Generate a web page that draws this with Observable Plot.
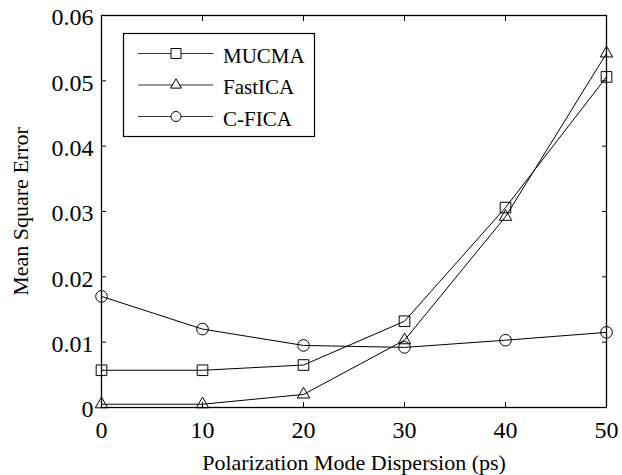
<!DOCTYPE html>
<html>
<head>
<meta charset="utf-8">
<script src="https://cdn.jsdelivr.net/npm/d3@7"></script>
<script src="https://cdn.jsdelivr.net/npm/@observablehq/plot@0.6"></script>
<style>
  html, body { margin: 0; padding: 0; background: #fff; }
  #chart svg { display: block; }
</style>
</head>
<body>
<div id="chart"></div>
<script>
// ---- data ----
const pmd = [0, 10, 20, 30, 40, 50];
const mucma = [0.0057, 0.0057, 0.0065, 0.0132, 0.0306, 0.0506];
const fastica = [0.0005, 0.0005, 0.0020, 0.0103, 0.0292, 0.0542];
const cfica = [0.0170, 0.0120, 0.0095, 0.0092, 0.0103, 0.0115];
const seriesNames = ["MUCMA", "FastICA", "C-FICA"];
const seriesSymbols = ["square", "triangle", "circle"];
const xTicks = [0, 10, 20, 30, 40, 50];
const yTicks = [0, 0.01, 0.02, 0.03, 0.04, 0.05, 0.06];
const xLabel = "Polarization Mode Dispersion (ps)";
const yLabel = "Mean Square Error";

const seriesValues = [mucma, fastica, cfica];
const rows = seriesNames.flatMap((name, i) =>
  pmd.map((x, j) => ({series: name, x, y: seriesValues[i][j]})));
const symbolRadius = {square: 6, triangle: 4.6, circle: 5.8};

const font = "'Liberation Serif', 'Times New Roman', serif";
const yFmt = d => d === 0 ? "0" : d.toFixed(2);

const marks = [
  Plot.frame({stroke: "black", strokeWidth: 1.3}),
  // inward ticks on all four sides
  Plot.axisX({anchor: "bottom", ticks: xTicks, tickSize: -5, tickFormat: () => "", stroke: "black"}),
  Plot.axisX({anchor: "top", ticks: xTicks, tickSize: -5, tickFormat: () => "", stroke: "black"}),
  Plot.axisY({anchor: "left", ticks: yTicks, tickSize: -5, tickFormat: () => "", stroke: "black"}),
  Plot.axisY({anchor: "right", ticks: yTicks, tickSize: -5, tickFormat: () => "", stroke: "black"}),
  // tick labels
  Plot.axisX({anchor: "bottom", ticks: xTicks, tickSize: 0, tickPadding: 13, fontSize: 24, fill: "black", label: null}),
  Plot.axisY({anchor: "left", ticks: yTicks, tickSize: 0, tickPadding: 8, fontSize: 24, fill: "black", tickFormat: yFmt, dy: 2, label: null}),
  // axis titles
  Plot.text([xLabel], {frameAnchor: "bottom", text: d => d, dy: 55, lineAnchor: "middle", textAnchor: "middle", fontSize: 22, fill: "black"}),
  Plot.text([yLabel], {frameAnchor: "left", text: d => d, dx: -81, rotate: -90, textAnchor: "middle", lineAnchor: "middle", fontSize: 22, fill: "black"}),
];

seriesNames.forEach((name, i) => {
  const data = rows.filter(d => d.series === name);
  marks.push(Plot.line(data, {x: "x", y: "y", stroke: "black", strokeWidth: 1}));
  marks.push(Plot.dot(data, {x: "x", y: "y", symbol: () => seriesSymbols[i], r: symbolRadius[seriesSymbols[i]], stroke: "black", strokeWidth: 1, fill: "none"}));
});

const chart = Plot.plot({
  width: 622,
  height: 475,
  marginLeft: 101,
  marginRight: 16,
  marginTop: 15,
  marginBottom: 68,
  style: {fontFamily: font, background: "white", color: "black"},
  x: {domain: [0, 50], label: null},
  y: {domain: [0, 0.06], label: null},
  symbol: {type: "identity"},
  marks
});

document.getElementById("chart").append(chart);

// ---- legend (inside the axes, upper left) ----
const svg = d3.select(chart);
const lg = svg.append("g").attr("font-family", font).attr("text-anchor", "start");
lg.append("rect")
  .attr("x", 123.5).attr("y", 33.5).attr("width", 191).attr("height", 103)
  .attr("fill", "white").attr("stroke", "black").attr("stroke-width", 1.2);
const legendSym = {
  square: d3.symbol(d3.symbolSquare, 100)(),
  triangle: d3.symbol(d3.symbolTriangle, 50)(),
  circle: d3.symbol(d3.symbolCircle, Math.PI * 25)()
};
seriesNames.forEach((name, i) => {
  const cy = 53.5 + 31.5 * i;
  lg.append("line").attr("x1", 138).attr("x2", 213).attr("y1", cy).attr("y2", cy)
    .attr("stroke", "#333").attr("stroke-width", 1);
  lg.append("path").attr("d", legendSym[seriesSymbols[i]])
    .attr("transform", `translate(176,${cy})`)
    .attr("fill", "white").attr("stroke", "black").attr("stroke-width", 1);
  lg.append("text").attr("x", 223).attr("y", cy + 9).attr("font-size", 21)
    .attr("text-anchor", "start").attr("fill", "black").text(name);
});
</script>
</body>
</html>
